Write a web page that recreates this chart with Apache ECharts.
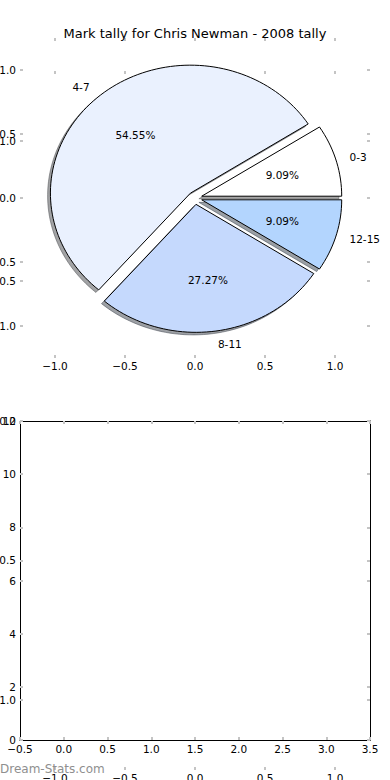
<!DOCTYPE html>
<html><head><meta charset="utf-8">
<script src="https://cdn.jsdelivr.net/npm/echarts@6/dist/echarts.min.js"></script>
<style>html,body{margin:0;padding:0;background:#fff}#c{width:390px;height:780px}</style>
</head><body><div id="c"></div>
<script>
const chartTitle = 'Mark tally for Chris Newman - 2008 tally';
const categories = ['0-3', '4-7', '8-11', '12-15'];
const tallyValues = [1, 6, 3, 1];
const sliceColors = ['#ffffff', '#eaf1fe', '#c5d9fd', '#b3d5fe'];
const explodeValues = [0.05, 0.05, 0.05, 0.05];
const pieTicks = [-1, -0.5, 0, 0.5, 1];
const barXTicks = [-0.5, 0, 0.5, 1, 1.5, 2, 2.5, 3, 3.5];
const barYTicks = [0, 2, 4, 6, 8, 10, 12];
const watermark = 'Dream-Stats.com';

const FONT = 'DejaVu Sans';
const FS = 10.5;
const TICK = '#c4c4c4';
const total = tallyValues.reduce((a, b) => a + b, 0);
const geom = [];
{
  let acc = 0;
  tallyValues.forEach((v, i) => {
    const s = acc / total * 2 * Math.PI;
    acc += v;
    const e = acc / total * 2 * Math.PI;
    const m = (s + e) / 2;
    geom.push({ s, e, m, ox: explodeValues[i] * Math.cos(m), oy: explodeValues[i] * Math.sin(m) });
  });
}
const fmt1 = v => (v < 0 ? '\u2212' : '') + Math.abs(v).toFixed(1);

function axis(kind, grid, pos, min, max, opts) {
  const a = {
    type: 'value', gridIndex: grid, position: pos, min: min, max: max,
    splitLine: { show: false },
    axisLine: { show: !!opts.line, onZero: false, lineStyle: { color: '#000', width: 1 } },
    axisTick: { show: true, inside: true, length: 3, lineStyle: { color: TICK, width: 2 } },
    axisLabel: { show: !!opts.label, margin: opts.margin || 3, color: '#000', fontFamily: FONT, fontSize: FS, formatter: opts.fmt || fmt1, hideOverlap: false }
  };
  if (opts.custom) {
    a.axisTick.customValues = opts.custom;
    a.axisLabel.customValues = opts.custom;
  } else {
    a.interval = opts.interval;
  }
  return a;
}

const grids = [
  { left: 20, top: 38, width: 350, height: 320, outerBoundsMode: 'none', containLabel: false },
  { left: 20, top: 71, width: 350, height: 699, outerBoundsMode: 'none', containLabel: false },
  { left: 20, top: 421, width: 350, height: 319, outerBoundsMode: 'none', containLabel: false }
];
const xAxes = [
  axis('x', 0, 'bottom', -1.25, 1.25, { custom: pieTicks, label: true, margin: 2 }),
  axis('x', 0, 'top', -1.25, 1.25, { custom: pieTicks }),
  axis('x', 1, 'bottom', -1.25, 1.25, { custom: pieTicks, label: true, margin: 2 }),
  axis('x', 1, 'top', -1.25, 1.25, { custom: pieTicks }),
  axis('x', 2, 'bottom', barXTicks[0], barXTicks[barXTicks.length - 1], { interval: 0.5, label: true, line: true, margin: 3 }),
  axis('x', 2, 'top', barXTicks[0], barXTicks[barXTicks.length - 1], { interval: 0.5, line: true })
];
const yAxes = [
  axis('y', 0, 'left', -1.25, 1.25, { custom: pieTicks, label: true, margin: 4 }),
  axis('y', 0, 'right', -1.25, 1.25, { custom: pieTicks }),
  axis('y', 1, 'left', -1.25, 1.25, { custom: pieTicks, label: true, margin: 4 }),
  axis('y', 1, 'right', -1.25, 1.25, { custom: pieTicks }),
  axis('y', 2, 'left', barYTicks[0], barYTicks[barYTicks.length - 1], { interval: 2, label: true, line: true, margin: 4, fmt: v => String(v) }),
  axis('y', 2, 'right', barYTicks[0], barYTicks[barYTicks.length - 1], { interval: 2, line: true })
];

function wedgePoints(api, i, dx, dy) {
  const g = geom[i];
  const cx = g.ox + dx, cy = g.oy + dy;
  const pts = [api.coord([cx, cy])];
  const n = Math.max(8, Math.ceil((g.e - g.s) / (Math.PI / 90)));
  for (let k = 0; k <= n; k++) {
    const a = g.s + (g.e - g.s) * k / n;
    pts.push(api.coord([cx + Math.cos(a), cy + Math.sin(a)]));
  }
  return pts;
}
function shade(hex) {
  const n = parseInt(hex.slice(1), 16);
  const r = Math.round(((n >> 16) & 255) * 0.3), g = Math.round(((n >> 8) & 255) * 0.3), b = Math.round((n & 255) * 0.3);
  return 'rgb(' + r + ',' + g + ',' + b + ')';
}
const pieData = tallyValues.map((v, i) => ({ name: categories[i], value: [i, v] }));

const option = {
  animation: false,
  title: { text: chartTitle, left: 'center', top: 22, textStyle: { fontFamily: FONT, fontSize: 13, fontWeight: 'normal', color: '#000' } },
  grid: grids,
  xAxis: xAxes,
  yAxis: yAxes,
  graphic: [{ type: 'text', left: 0, top: 763, z: 100, style: { text: watermark, fill: '#8f8f8f', font: '12px "DejaVu Sans"' } }],
  series: [
    {
      type: 'custom', name: 'shadow', xAxisIndex: 0, yAxisIndex: 0, z: 2, data: pieData,
      renderItem: (p, api) => {
        const i = p.dataIndex;
        const c = shade(sliceColors[i]);
        return { type: 'polygon', shape: { points: wedgePoints(api, i, -0.02, -0.02) }, style: { fill: c, stroke: c, lineWidth: 1, opacity: 0.5 } };
      }
    },
    {
      type: 'custom', name: 'wedges', xAxisIndex: 0, yAxisIndex: 0, z: 3, data: pieData,
      renderItem: (p, api) => {
        const i = p.dataIndex;
        return { type: 'polygon', shape: { points: wedgePoints(api, i, 0, 0) }, style: { fill: sliceColors[i], stroke: '#000', lineWidth: 1 } };
      }
    },
    {
      type: 'custom', name: 'labels', xAxisIndex: 0, yAxisIndex: 0, z: 4, data: pieData,
      renderItem: (p, api) => {
        const i = p.dataIndex;
        const g = geom[i];
        const v = api.value(1);
        const lx = g.ox + 1.1 * Math.cos(g.m), ly = g.oy + 1.1 * Math.sin(g.m);
        const px = g.ox + 0.6 * Math.cos(g.m), py = g.oy + 0.6 * Math.sin(g.m);
        const lp = api.coord([lx, ly]), pp = api.coord([px, py]);
        return {
          type: 'group', children: [
            { type: 'text', x: lp[0], y: lp[1], style: { text: categories[i], fill: '#000', font: FS + 'px "DejaVu Sans"', align: lx < 0 ? 'right' : 'left', verticalAlign: 'middle' } },
            { type: 'text', x: pp[0], y: pp[1], style: { text: (v / total * 100).toFixed(2) + '%', fill: '#000', font: FS + 'px "DejaVu Sans"', align: 'center', verticalAlign: 'middle' } }
          ]
        };
      }
    }
  ]
};
const chart = echarts.init(document.getElementById('c'), null, { renderer: 'svg' });
chart.setOption(option);
</script></body></html>
